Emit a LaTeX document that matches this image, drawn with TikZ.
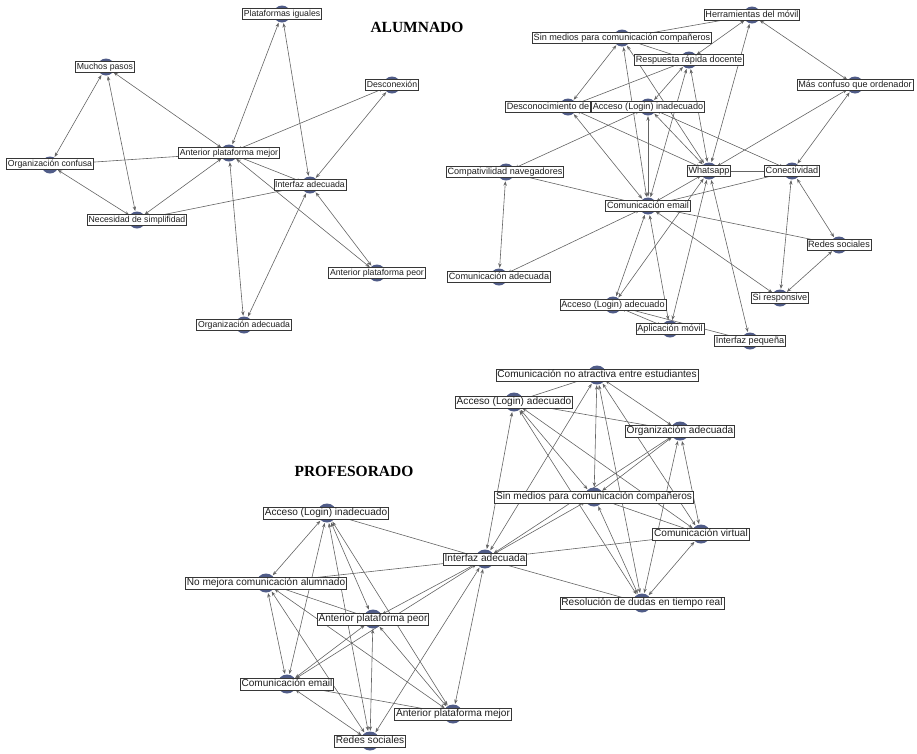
\documentclass[tikz,border=0pt]{standalone}
\usepackage{fontspec}
\setmainfont{Liberation Serif}
\newfontfamily\lblfont{Liberation Sans}
\usetikzlibrary{arrows.meta}

\definecolor{vert}{RGB}{80,92,136}
\definecolor{edgegray}{RGB}{100,100,100}
\definecolor{boxline}{RGB}{55,55,55}
\definecolor{lbltext}{RGB}{30,30,30}

\pgfdeclarelayer{edgelayer}
\pgfsetlayers{edgelayer,main}

\tikzset{
  vtx/.style={circle, fill=vert, minimum size=17pt, inner sep=0pt},
  vtxbig/.style={vtx, minimum size=19pt},
  lbl/.style={draw=boxline, fill=white, line width=0.7pt, inner xsep=1.3pt,
    inner ysep=1.1pt, text=lbltext},
  lblA/.style={lbl, text height=6.5pt, text depth=1.9pt,
    font=\lblfont\fontsize{8.7}{9}\selectfont},
  lblB/.style={lbl, text height=6.8pt, text depth=2pt,
    font=\lblfont\fontsize{9.1}{10}\selectfont},
  lblP/.style={lbl, inner ysep=1.3pt, text height=7.5pt, text depth=2.2pt,
    font=\lblfont\fontsize{10.1}{11}\selectfont},
  tie/.style={draw=edgegray, line width=0.6pt,
    {Stealth[length=4.5pt,width=3.4pt]}-{Stealth[length=4.5pt,width=3.4pt]},
    shorten >=0.5pt, shorten <=0.5pt},
  heading/.style={font=\bfseries\fontsize{15.5}{18}\selectfont}
}

\begin{document}
\begin{tikzpicture}[x=1pt,y=-1pt]
\useasboundingbox (0,0) rectangle (917,753);

% vertices: name / circle x / circle y / box x / box y / label
% students, first network
\foreach \n/\cx/\cy/\lx/\ly/\t in {
  a1/282/14/282/14/Plataformas iguales,
  a2/106/67/105/67/Muchos pasos,
  a3/392/85/392/85/Desconexión,
  a4/229/153/229/153/Anterior plataforma mejor,
  a5/50/165/50/164/Organización confusa,
  a6/310/185/310/185/Interfaz adecuada,
  a7/137/220/137/220/Necesidad de simplifidad,
  a8/377/273/377/273/Anterior plataforma peor,
  a9/244/325/244/325/Organización adecuada}
{
  \node[vtx] (\n) at (\cx,\cy) {};
  \node[lblA] (\n-l) at (\lx,\ly) {\t};
}
% students, second network
\foreach \n/\cx/\cy/\lx/\ly/\t in {
  b1/752/15/752/15/Herramientas del móvil,
  b2/622/38/622/38/Sin medios para comunicación compañeros,
  b3/689/60/689/60/Respuesta rápida docente,
  b4/855/85/855/85/Más confuso que ordenador,
  b5/568/107/548/107/Desconocimiento de,
  b6/648/107/648/107/Acceso (Login) inadecuado,
  b7/506/172/505/172/Compativilidad navegadores,
  b8/709/171/709/171/Whatsapp,
  b9/792/171/792/171/Conectividad,
  b10/648/206/648/206/Comunicación email,
  b11/499/277/499/277/Comunicación adecuada,
  b12/839/245/839/245/Redes sociales,
  b13/780/298/780/298/Si responsive,
  b14/613/305/613/305/Acceso (Login) adecuado,
  b15/670/329/670/329/Aplicación móvil,
  b16/750/341/750/341/Interfaz pequeña}
{
  \node[vtx] (\n) at (\cx,\cy) {};
  \node[lblB] (\n-l) at (\lx,\ly) {\t};
}
% teachers
\foreach \n/\cx/\cy/\lx/\ly/\t in {
  p1/327/513/326/513/Acceso (Login) inadecuado,
  p2/485/559/485/559/Interfaz adecuada,
  p3/266/583/266/583/No mejora comunicación alumnado,
  p4/373/619/373/619/Anterior plataforma peor,
  p5/287/684/287/684/Comunicación email,
  p6/453/714/453/714/Anterior plataforma mejor,
  p7/370/741/370/741/Redes sociales,
  p8/597/375/597/375/Comunicación no atractiva entre estudiantes,
  p9/514/402/514/402/Acceso (Login) adecuado,
  p10/680/431/680/431/Organización adecuada,
  p11/594/497/594/497/Sin medios para comunicación compañeros,
  p12/701/534/701/534/Comunicación virtual,
  p13/642/603/642/603/Resolución de dudas en tiempo real}
{
  \node[vtxbig] (\n) at (\cx,\cy) {};
  \node[lblP] (\n-l) at (\lx,\ly) {\t};
}

% connectors
\begin{pgfonlayer}{edgelayer}
\foreach \u/\v in {
  a1/a4, a1/a6, a2/a5, a2/a7, a2/a4, a3/a4, a3/a6, a5/a4, a5/a7, a7/a4,
  a7/a6, a4/a6, a4/a9, a6/a9, a6/a8, a4/a8,
  b1/b4, b1/b3, b1/b8, b1/b2, b2/b5, b2/b10, b2/b8, b2/b3, b3/b5, b3/b6,
  b3/b10, b3/b8, b6/b10, b6/b8, b6/b9, b6/b7, b5/b8, b5/b10, b8/b10,
  b9/b10, b9/b8, b4/b8, b4/b9, b7/b10, b7/b11, b11/b10, b10/b14, b10/b15,
  b8/b14, b8/b15, b8/b16, b10/b12, b10/b13, b9/b12, b9/b13, b12/b13,
  b14/b15, b14/b16,
  p1/p3, p1/p5, p1/p4, p1/p7, p1/p6, p1/p2, p3/p2, p3/p4, p3/p5, p3/p7,
  p3/p6, p4/p2, p4/p5, p5/p2, p4/p7, p4/p6, p5/p7, p5/p6, p2/p7, p2/p6,
  p2/p13, p2/p12, p2/p9, p2/p8, p2/p11, p2/p10, p8/p9, p8/p11, p8/p13,
  p8/p10, p8/p12, p9/p11, p9/p10, p9/p12, p9/p13, p10/p11, p10/p12,
  p10/p13, p11/p12, p11/p13, p12/p13}
  \draw[tie] (\u) -- (\v);
\end{pgfonlayer}

% group headings
\node[heading] (ttl-a) at (417,27) {ALUMNADO};
\node[heading] (ttl-p) at (354,471) {PROFESORADO};
\end{tikzpicture}
\end{document}
